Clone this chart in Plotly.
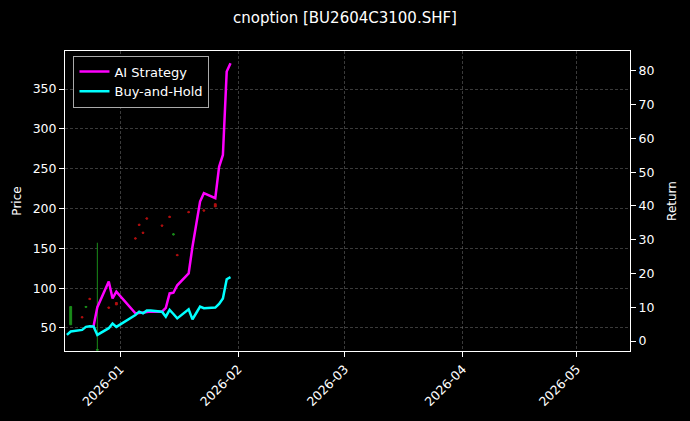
import plotly.graph_objects as go

dates = ["2025-12-18","2025-12-19","2025-12-22","2025-12-23","2025-12-24","2025-12-25","2025-12-26",
         "2025-12-29","2025-12-30","2025-12-31","2026-01-05","2026-01-06","2026-01-07","2026-01-08",
         "2026-01-09","2026-01-12","2026-01-13","2026-01-14","2026-01-15","2026-01-16","2026-01-19",
         "2026-01-20","2026-01-21","2026-01-22","2026-01-23","2026-01-26","2026-01-27","2026-01-28",
         "2026-01-29","2026-01-30"]
bh_ret = [1.8,2.8,3.3,4.2,4.4,4.3,1.8,3.8,5.2,4.2,7.7,8.7,8.2,9.0,9.0,8.7,7.2,9.2,8.0,6.7,9.4,6.4,
          8.3,10.2,9.7,9.9,11.0,12.6,18.3,18.9]
ai_ret = [None,None,None,None,None,4.4,10.0,17.6,12.6,14.6,8.2,8.3,8.5,8.6,8.7,8.7,9.8,14.1,14.3,
          16.5,20.0,27.9,35.0,41.3,43.8,42.3,51.6,55.1,79.8,82.3]
c_open  = [None,54,64,76,87,None,22,76,None,82,163,180,170,188,None,179,None,190,167,142,196,None,
           None,None,198,206,None,None,None,None]
c_close = [None,77,63,77,86,None,23,75,None,79,162,179,169,187,None,178,None,189,168,141,195,None,
           None,None,197,202,None,None,None,None]
c_high  = [None,77,65,77,88,None,157,77,None,82,164,181,171,189,None,180,None,191,169,143,197,None,
           None,None,199,206,None,None,None,None]
c_low   = [None,54,62,75,85,None,22,74,None,79,161,178,168,186,None,177,None,188,166,140,194,None,
           None,None,196,202,None,None,None,None]

fig = go.Figure()
fig.add_trace(go.Candlestick(x=dates, open=c_open, high=c_high, low=c_low, close=c_close,
    increasing=dict(line=dict(color="#1a8c1a", width=1), fillcolor="#1a8c1a"),
    decreasing=dict(line=dict(color="#b01010", width=1), fillcolor="#b01010"),
    whiskerwidth=0, showlegend=False, yaxis="y"))
fig.add_trace(go.Scatter(x=dates, y=ai_ret, name="AI Strategy", mode="lines",
    line=dict(color="#ff00ff", width=2.5), yaxis="y2"))
fig.add_trace(go.Scatter(x=dates, y=bh_ret, name="Buy-and-Hold", mode="lines",
    line=dict(color="#00ffff", width=2.5), yaxis="y2"))

grid = dict(showgrid=True, gridcolor="rgba(128,128,128,0.45)", griddash="3px,2px", gridwidth=0.5)
fig.update_layout(
    width=690, height=421, paper_bgcolor="black", plot_bgcolor="black",
    font=dict(family="DejaVu Sans", color="white", size=12.5),
    title=dict(text="cnoption [BU2604C3100.SHF]", x=0.5, xanchor="center", y=0.97, font=dict(size=15)),
    margin=dict(l=65, r=60, t=51, b=70, autoexpand=False),
    xaxis=dict(range=["2025-12-17 12:00", "2026-05-15"], type="date", tickformat="%Y-%m",
               tickvals=["2026-01-01","2026-02-01","2026-03-01","2026-04-01","2026-05-01"],
               tickangle=-45, rangeslider=dict(visible=False), showline=True, linecolor="white",
               mirror=True, ticks="outside", tickcolor="white", zeroline=False, automargin=False, **grid),
    yaxis=dict(title=dict(text="Price", standoff=8, font=dict(size=12)), range=[21.1, 397.7],
               tickvals=[50,100,150,200,250,300,350], automargin=False,
               showline=True, linecolor="white", mirror=True, ticks="outside", tickcolor="white",
               zeroline=False, **grid),
    yaxis2=dict(title=dict(text="Return", standoff=14, font=dict(size=12)), overlaying="y", side="right",
                range=[-2.96, 85.9], automargin=False,
                tickvals=list(range(0, 81, 10)), showline=True, linecolor="white", ticks="outside",
                tickcolor="white", showgrid=False, zeroline=False),
    legend=dict(x=0.015, y=0.985, xanchor="left", yanchor="top", bgcolor="black",
                bordercolor="#aaaaaa", borderwidth=1, font=dict(size=13)),
)
fig.write_html("out.html", config={"displayModeBar": False},
               post_script="document.body.style.margin='0';document.body.style.background='black';")
